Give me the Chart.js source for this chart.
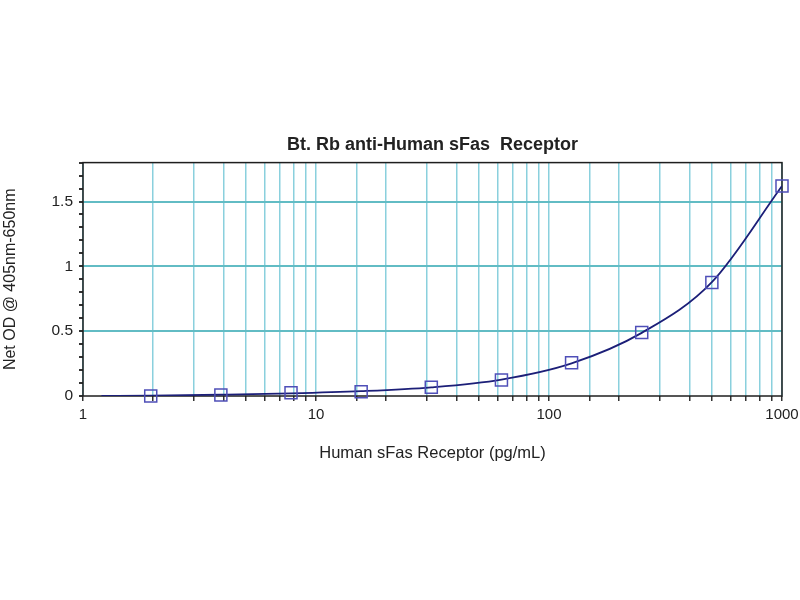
<!DOCTYPE html>
<html>
<head>
<meta charset="utf-8">
<script src="https://cdn.jsdelivr.net/npm/chart.js@4/dist/chart.umd.min.js"></script>
<style>
  html, body { margin: 0; padding: 0; background: #ffffff; }
  #wrap { width: 800px; height: 600px; }
</style>
</head>
<body>
<div id="wrap"><canvas id="c" width="800" height="600"></canvas></div>
<script>
// ---- data ----
const chartTitle = 'Bt. Rb anti-Human sFas  Receptor';
const xAxisTitle = 'Human sFas Receptor (pg/mL)';
const yAxisTitle = 'Net OD @ 405nm-650nm';
const concentrations = [1.953, 3.906, 7.8125, 15.625, 31.25, 62.5, 125, 250, 500, 1000];
const netOD = [0.0, 0.008, 0.025, 0.033, 0.067, 0.124, 0.257, 0.489, 0.875, 1.62];
// fitted curve
const curveX = [1.2, 1.953, 3.906, 7.8125, 15.625, 31.25, 62.5, 125, 250, 500, 1000];
const curveY = [0.0, 0.003, 0.01, 0.02, 0.037, 0.067, 0.127, 0.252, 0.487, 0.878, 1.62];
const xMin = 1, xMax = 1000;
const yMin = 0, yMax = 1.8, yStep = 0.1;
const yLabelEvery = 0.5;

const markerPts = concentrations.map((x, i) => ({ x: x, y: netOD[i] }));
const curvePts = curveX.map((x, i) => ({ x: x, y: curveY[i] }));

const frame = {
  id: 'frame',
  beforeDatasetsDraw(chart) {
    const a = chart.chartArea, ctx = chart.ctx;
    ctx.save();
    ctx.strokeStyle = '#1e1e1e';
    ctx.lineWidth = 1.5;
    ctx.strokeRect(a.left, a.top, a.right - a.left, a.bottom - a.top);
    ctx.restore();
  }
};

const isMajorY = v => Math.abs(v / yLabelEvery - Math.round(v / yLabelEvery)) < 1e-6;
const isDecade = v => Math.abs(Math.log10(v) - Math.round(Math.log10(v))) < 1e-6;
const FONT = 'Liberation Sans, Arial, sans-serif';

new Chart(document.getElementById('c'), {
  type: 'scatter',
  data: {
    datasets: [
      {
        label: 'fit',
        data: curvePts,
        showLine: true,
        borderColor: '#1c1f78',
        borderWidth: 1.8,
        pointRadius: 0,
        cubicInterpolationMode: 'monotone',
        fill: false,
        order: 2
      },
      {
        label: 'standards',
        data: markerPts,
        showLine: false,
        clip: false,
        pointStyle: 'rect',
        pointRadius: 8.5,
        pointBorderWidth: 1.5,
        pointBorderColor: '#4f4fb8',
        pointBackgroundColor: 'rgba(255,255,255,0)',
        order: 1
      }
    ]
  },
  options: {
    responsive: false,
    animation: false,
    layout: { padding: { left: 0, right: 18, top: 0, bottom: 134 } },
    plugins: {
      legend: { display: false },
      tooltip: { enabled: false },
      title: {
        display: true,
        fullSize: false,
        text: chartTitle,
        color: '#222222',
        font: { family: FONT, size: 18, weight: 'bold' },
        padding: { top: 134, bottom: 7 }
      }
    },
    scales: {
      x: {
        type: 'logarithmic',
        min: xMin,
        max: xMax,
        afterFit(s) { s.height = 70; s.paddingRight = 0; s.paddingLeft = 0; },
        grid: {
          color: '#8ad0dd',
          lineWidth: 1.5,
          tickColor: '#333333',
          tickLength: 5,
          drawOnChartArea: true
        },
        border: { display: false },
        ticks: {
          autoSkip: false,
          maxRotation: 0,
          padding: 5,
          color: '#222222',
          font: { family: FONT, size: 15 },
          callback: (v) => isDecade(v) ? String(Math.round(v)) : ''
        },
        title: {
          display: true,
          text: xAxisTitle,
          color: '#222222',
          font: { family: FONT, size: 16.5 },
          padding: { top: 4, bottom: 3 }
        }
      },
      y: {
        type: 'linear',
        min: yMin,
        max: yMax,
        afterFit(s) { s.width = 83; },
        grid: {
          color: (ctx) => (ctx.tick && isMajorY(ctx.tick.value) && ctx.tick.value > 0 && ctx.tick.value < yMax) ? '#62bcc4' : 'rgba(0,0,0,0)',
          lineWidth: 2,
          tickColor: '#333333',
          tickLength: 4,
          drawOnChartArea: true
        },
        border: { display: false },
        ticks: {
          stepSize: yStep,
          autoSkip: false,
          padding: 6,
          color: '#222222',
          font: { family: FONT, size: 15.5 },
          callback: (v) => isMajorY(v) ? String(Math.round(v * 10) / 10) : ''
        },
        title: {
          display: true,
          text: yAxisTitle,
          color: '#222222',
          font: { family: FONT, size: 16 },
          padding: { top: 1, bottom: 4 }
        }
      }
    }
  },
  plugins: [frame]
});
</script>
</body>
</html>
